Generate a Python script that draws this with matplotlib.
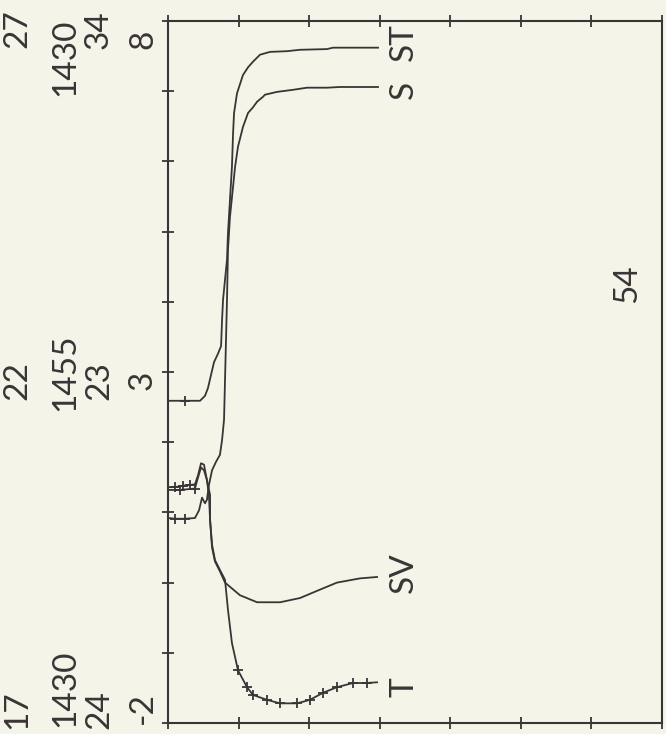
import matplotlib
matplotlib.use("Agg")
import matplotlib.pyplot as plt
import numpy as np

# depth (m) and the four profiles
t_depth = [0, 5.0, 10.6, 15.6, 19.1, 21.3, 23.4, 25.5, 26.9, 28.3, 29.8, 29.8, 31.2, 33.3,
           36.8, 40.4, 42.5, 45.3, 49.6, 56.0, 60.2, 70.1, 79.4, 91.4, 100.6, 109.8,
           119.7, 131.1, 141.0, 148.1]
temp = [1.36, 1.36, 1.38, 1.39, 1.40, 1.53, 1.70, 1.68, 1.53, 1.39, 1.25, 0.89, 0.54, 0.32,
        0.18, 0.04, -0.39, -0.86, -1.25, -1.49, -1.60, -1.67, -1.72, -1.72, -1.67, -1.57,
        -1.49, -1.43, -1.43, -1.42]

sv_depth = [0, 8.5, 19.1, 21.3, 23.4, 25.5, 27.6, 29.0, 29.8, 31.2, 33.3, 36.8, 40.4, 51.0,
            63.1, 79.4, 93.5, 107.7, 119.7, 136.0, 148.1]
sound_vel = [1446.6, 1446.6, 1446.7, 1447.5, 1448.2, 1448.0, 1447.3, 1446.2, 1444.5, 1442.5,
             1441.5, 1440.8, 1440.0, 1439.1, 1438.6, 1438.6, 1438.9, 1439.5, 1440.0, 1440.3,
             1440.4]

s_depth = [0, 5.0, 12.0, 19.1, 22.0, 24.1, 26.2, 27.6, 29.0, 31.2, 34.0, 36.8, 38.3, 39.7,
           40.4, 41.1, 41.8, 42.5, 43.9, 46.1, 47.5, 49.6, 53.1, 56.7, 60.2, 63.1, 67.3,
           68.7, 77.2, 88.6, 98.5, 112.7, 121.9, 136.0, 148.8]
salinity = [26.92, 26.91, 26.91, 26.92, 27.03, 27.21, 27.13, 27.18, 27.39, 27.60, 27.72,
            27.82, 28.03, 28.32, 28.89, 29.46, 30.03, 30.74, 31.21, 31.64, 31.92, 32.21,
            32.49, 32.69, 32.77, 32.85, 32.92, 32.95, 32.99, 33.02, 33.05, 33.05, 33.06,
            33.06, 33.06]

st_depth = [0, 12.0, 22.7, 26.2, 28.3, 30.5, 32.6, 35.4, 37.6, 38.3, 39.0, 41.8, 42.5, 43.9,
            45.3, 46.1, 46.8, 48.9, 53.1, 56.7, 60.2, 65.2, 72.3, 84.3, 93.5, 112.7, 116.9,
            126.8, 148.8]
sigma_t = [21.59, 21.59, 21.59, 21.66, 21.77, 21.96, 22.14, 22.26, 22.37, 22.74, 23.03,
           23.60, 23.98, 24.45, 24.92, 25.40, 25.69, 25.97, 26.23, 26.34, 26.42, 26.52,
           26.56, 26.57, 26.59, 26.60, 26.62, 26.62, 26.62]

# scale end labels (bottom, middle, top) for ST, SV, S, T
scale_labels = [["17", "1430", "24", "-2"],
                ["22", "1455", "23", "3"],
                ["27", "1430", "34", "8"]]
curve_labels = ["ST", "S", "SV", "T"]
station = "54"

paper = "#f4f4e8"
ink = "#3b3436"
W, H = 666, 734

fig = plt.figure(figsize=(W / 100, H / 100), dpi=100, facecolor=paper)
ax = fig.add_axes([168 / W, 11 / H, 494 / W, 702 / H])
ax.set_facecolor(paper)
ax.set_xlim(0, 350)
ax.set_ylim(-2, 8)
ax.set_xticks(np.arange(0, 351, 50))
ax.set_yticks(np.arange(-2, 9, 1))
ax.tick_params(direction="inout", length=9, width=1.3, color=ink, top=True, right=True,
               labelbottom=False, labelleft=False)
for sp in ax.spines.values():
    sp.set_color(ink)
    sp.set_linewidth(1.5)

line_kw = dict(color=ink, lw=1.3, marker="+", ms=7, mew=1.3)
ax.plot(t_depth, temp, markevery=[1, 2, 3, 18, 19, 20, 21, 22, 23, 24, 25, 26, 27, 28], **line_kw)

ax_sv = ax.twinx()
ax_sv.set_ylim(1430, 1480)
ax_sv.plot(sv_depth, sound_vel, markevery=[1, 2], **line_kw)

ax_s = ax.twinx()
ax_s.set_ylim(24, 34)
ax_s.plot(s_depth, salinity, markevery=[1, 2], **line_kw)

ax_st = ax.twinx()
ax_st.set_ylim(17, 27)
ax_st.plot(st_depth, sigma_t, markevery=[1], **line_kw)

for a in (ax_sv, ax_s, ax_st):
    a.set_axis_off()

txt = dict(rotation=90, color=ink, fontsize=24, family=["Lato", "DejaVu Sans"],
           ha="center", va="center")

cols = [17, 65, 99, 143]
rows = [[710, 688, 710, 708],
        [380, 372, 381, 380],
        [29, 57, 30, 39]]
for labels, ys in zip(scale_labels, rows):
    for lab, x, y in zip(labels, cols, ys):
        fig.text(x / W, 1 - y / H, lab, **txt)

for lab, y in zip(curve_labels, [42, 90, 573, 687]):
    fig.text(404 / W, 1 - y / H, lab, **txt)

fig.text(627 / W, 1 - 284 / H, station, **txt)

fig.savefig("out.png", dpi=100, facecolor=paper)
